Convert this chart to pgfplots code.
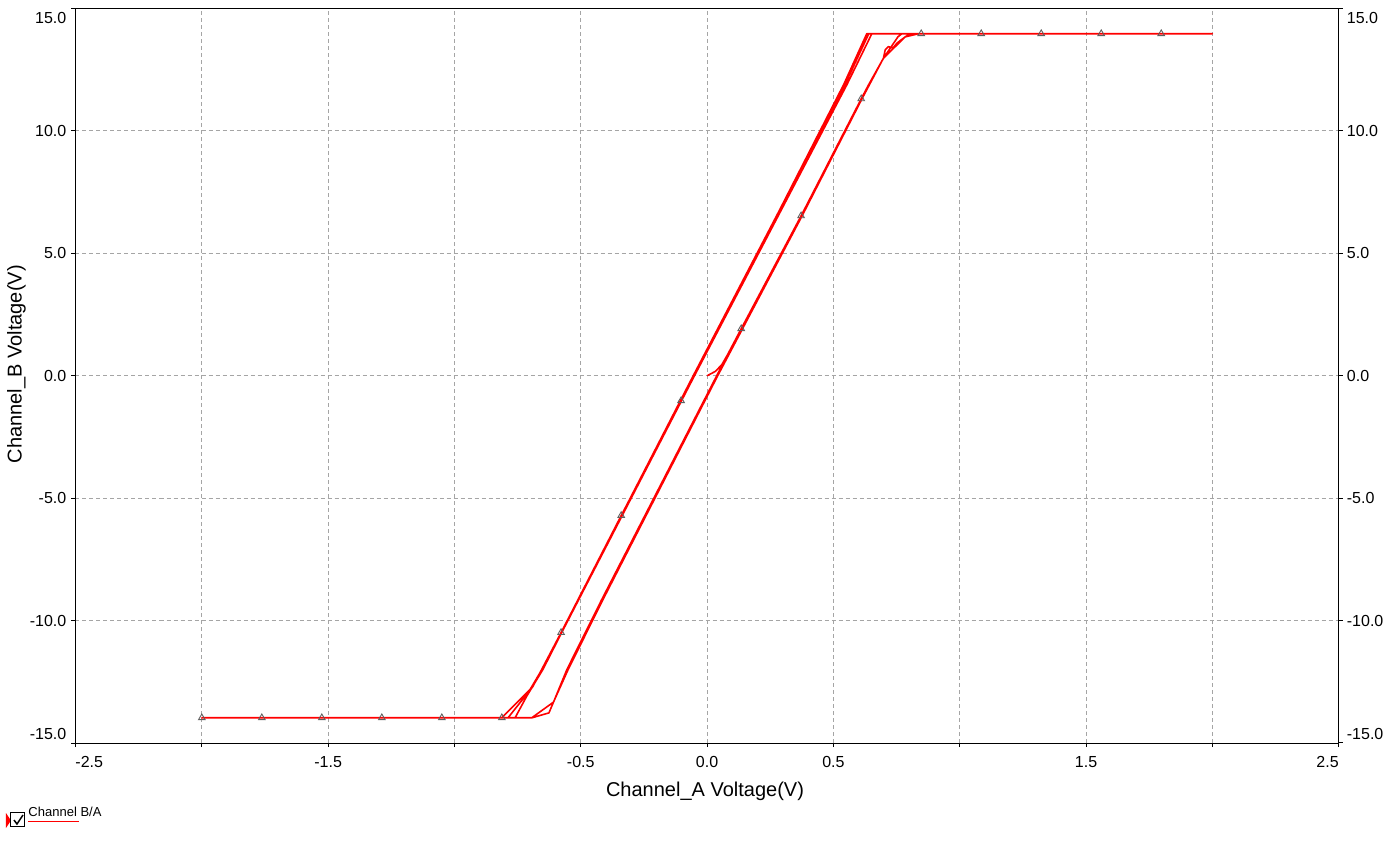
\documentclass[border=0pt]{standalone}
\usepackage{pgfplots}
\pgfplotsset{compat=1.18}
\usepackage{fontspec}
\setmainfont{Liberation Sans}
\definecolor{gridgray}{RGB}{165,165,165}
\definecolor{markgray}{RGB}{95,95,95}
\begin{document}
\begin{tikzpicture}
\useasboundingbox (-75.5bp,-101bp) rectangle (1311.5bp,743bp);
\begin{axis}[
  at={(0,0)}, anchor=south west, scale only axis,
  width=1263.2bp, height=734.5bp,
  xmin=-2.5, xmax=2.5, ymin=-15, ymax=15,
  xtick={-2.5,-2,-1.5,-1,-0.5,0,0.5,1,1.5,2,2.5},
  xticklabels={{\rlap{-2.5}},{},{-1.5},{},{-0.5},{0.0},{0.5},{},{1.5},{},{\llap{2.5}}},
  ytick={-15,-10,-5,0,5,10,15},
  yticklabels={{\raisebox{9.2bp}[\height][\depth]{-15.0}},{-10.0},{-5.0},{0.0},{5.0},{10.0},{\raisebox{-9.3bp}[\height][\depth]{15.0}}},
  xtick pos=bottom, ytick pos=left,
  grid=major,
  grid style={gridgray, dash pattern=on 4bp off 3bp, line width=1bp},
  axis line style={black, line width=1bp},
  tick align=outside, major tick length=4bp,
  tick style={black, line width=1bp},
  x tick label style={font=\fontsize{16bp}{19bp}\selectfont, inner sep=0pt, anchor=north, yshift=-9bp},
  y tick label style={font=\fontsize{16bp}{19bp}\selectfont, inner sep=0pt, anchor=east, xshift=-5bp},
]
\addplot[red, line width=1.6bp, line join=round] coordinates {
(0,0) (0.033,0.18) (0.058,0.45) (0.081,0.86) (0.135,1.92) (0.372,6.53) (0.610,11.31) (0.639,11.88) (0.698,12.97) (0.784,13.84) (0.837,13.97) (2.0,13.97)
(0.632,13.97) (0.540,11.88) (0.275,6.53) (-0.055,0) (-0.103,-1.02) (-0.340,-5.71) (-0.578,-10.49) (-0.654,-12.0) (-0.701,-12.82) (-0.813,-13.97) (-2.0,-13.97)
(-0.694,-13.97) (-0.608,-13.33) (-0.555,-12.0) (-0.417,-9.14) (0.038,0) (0.135,1.92) (0.372,6.53) (0.610,11.31) (0.698,12.97) (0.756,13.85) (0.771,13.97) (2.0,13.97)
(0.652,13.97) (0.553,11.88) (0.285,6.60) (-0.050,0) (-0.338,-5.75) (-0.576,-10.50) (-0.650,-12.0) (-0.714,-13.09) (-0.760,-13.97) (-2.0,-13.97)
(-0.693,-13.97) (-0.626,-13.77) (-0.608,-13.33) (-0.550,-12.0) (-0.412,-9.14) (0.042,0) (0.376,6.53) (0.613,11.31) (0.698,12.97) (0.705,13.31) (0.717,13.44) (0.736,13.39) (0.752,13.59) (0.784,13.84) (0.804,13.97) (2.0,13.97)
(0.640,13.97) (0.545,11.88) (-0.055,0) (-0.578,-10.49) (-0.660,-12.1) (-0.690,-12.7) (-0.788,-13.97) (-2.0,-13.97)
};
\addplot[only marks, mark=triangle, mark size=3.8bp, mark options={markgray, line width=0.9bp}] coordinates {
(-2.0,-13.97) (-1.7625,-13.97) (-1.525,-13.97) (-1.2875,-13.97) (-1.05,-13.97) (-0.8125,-13.97)
(-0.578,-10.49) (-0.340,-5.71) (-0.103,-1.02) (0.135,1.92) (0.372,6.53) (0.610,11.31)
(0.8475,13.97) (1.085,13.97) (1.3225,13.97) (1.56,13.97) (1.7975,13.97)
};
\end{axis}
\begin{axis}[
  at={(0,0)}, anchor=south west, scale only axis,
  width=1263.2bp, height=734.5bp,
  xmin=-2.5, xmax=2.5, ymin=-15, ymax=15,
  xtick=\empty,
  ytick={-15,-10,-5,0,5,10,15},
  yticklabels={{\raisebox{9.2bp}[\height][\depth]{-15.0}},{-10.0},{-5.0},{0.0},{5.0},{10.0},{\raisebox{-9.3bp}[\height][\depth]{15.0}}},
  ytick pos=right, yticklabel pos=right,
  axis line style={draw=none},
  tick align=outside, major tick length=4bp,
  tick style={black, line width=1bp},
  y tick label style={font=\fontsize{16bp}{19bp}\selectfont, inner sep=0pt, anchor=west, xshift=4bp},
]
\addplot[draw=none] coordinates {(0,0)};
\end{axis}
\node[anchor=base, inner sep=0pt, font=\fontsize{20bp}{24bp}\selectfont] at (629.5bp,-53.7bp) {Channel\_A Voltage(V)};
\node[anchor=base, rotate=90, inner sep=0pt, font=\fontsize{20bp}{24bp}\selectfont] at (-53.8bp,378.8bp) {Channel\_B Voltage(V)};
\fill[red] (-69.5bp,-70bp) -- (-64.5bp,-77.5bp) -- (-69.5bp,-85bp) -- cycle;
\draw[black, line width=1bp] (-64.5bp,-69.7bp) rectangle (-50.5bp,-83.7bp);
\draw[black, line width=1.5bp] (-61.5bp,-77bp) -- (-58.5bp,-81bp) -- (-52.5bp,-72bp);
\node[anchor=base west, inner sep=0pt, font=\fontsize{13bp}{15bp}\selectfont] at (-47.2bp,-73.7bp) {Channel B/A};
\draw[red, line width=1bp] (-47.2bp,-78.3bp) -- (3.2bp,-78.3bp);
\end{tikzpicture}
\end{document}
